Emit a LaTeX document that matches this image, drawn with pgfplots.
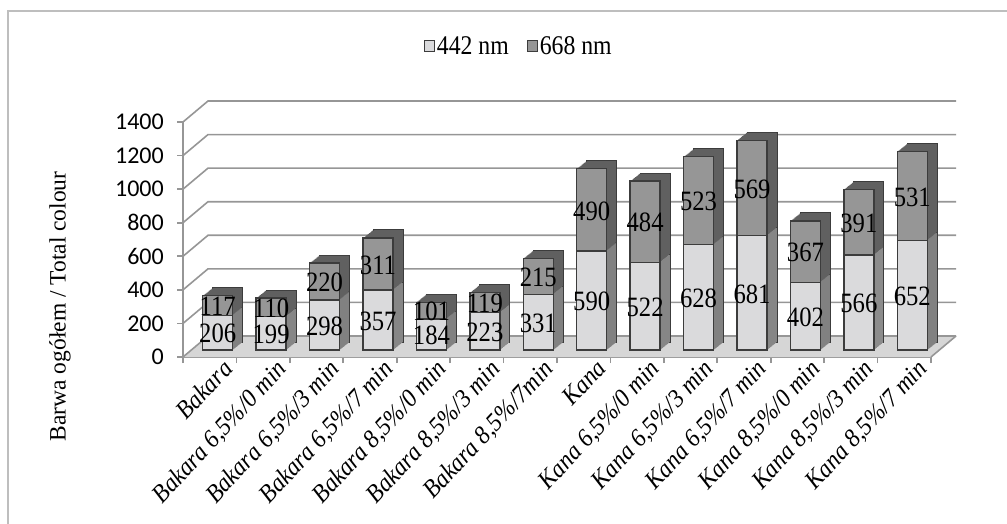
\documentclass[border=0pt]{standalone}
\usepackage{fontspec}
\setmainfont{Liberation Serif}
\newfontfamily\labfont[FakeStretch=0.88]{Liberation Serif}
\newfontfamily\xlabfont[FakeStretch=0.92]{Liberation Serif}
\newfontfamily\tickfont{Carlito}
\usepackage{pgfplots}
\pgfplotsset{compat=1.18}
\usepackage{pgfplotstable}

\definecolor{lightface}{RGB}{218,218,220}
\definecolor{darkface}{RGB}{150,150,150}
\definecolor{lightside}{RGB}{140,140,140}
\definecolor{darkside}{RGB}{96,96,96}
\definecolor{edgec}{RGB}{60,60,60}
\definecolor{gridc}{RGB}{150,150,150}
\definecolor{floorc}{RGB}{214,214,214}
\definecolor{framec}{RGB}{190,190,190}

\pgfplotstableread{
x a b
0 206 117
1 199 110
2 298 220
3 357 311
4 184 101
5 223 119
6 331 215
7 590 490
8 522 484
9 628 523
10 681 569
11 402 367
12 566 391
13 652 531
}\datatable

\pgfplotsset{bar3d/.style={ybar, bar width=30pt, bar shift=0pt, forget plot}}

\begin{document}
\begin{tikzpicture}
\useasboundingbox (0,0) rectangle (1007pt,-524pt);
\draw[framec, line width=1.5pt] (8pt,-540pt) -- (8pt,-11pt) -- (1020pt,-11pt);
\begin{axis}[
  at={(183pt,-357pt)}, anchor=south west,
  scale only axis, width=748pt, height=235pt,
  xmin=-0.5, xmax=13.5, ymin=0, ymax=1400,
  clip=false,
  axis x line*=bottom, axis y line*=left,
  axis line style={gridc, line width=1.6pt},
  ytick={0,200,...,1400},
  xtick={-0.5,0.5,...,13.5},
  xticklabels={},
  extra x ticks={0,...,13},
  extra x tick labels={{Bakara}, {Bakara 6,5\%/0 min}, {Bakara 6,5\%/3 min}, {Bakara 6,5\%/7 min}, {Bakara 8,5\%/0 min}, {Bakara 8,5\%/3 min}, {Bakara 8,5\%/7min}, {Kana}, {Kana 6,5\%/0 min}, {Kana 6,5\%/3 min}, {Kana 6,5\%/7 min}, {Kana 8,5\%/0 min}, {Kana 8,5\%/3 min}, {Kana 8,5\%/7 min}},
  extra x tick style={major tick length=0pt},
  tick align=outside,
  major tick length=6pt,
  tick style={gridc, line width=1.6pt},
  /pgf/number format/1000 sep={},
  /pgf/number format/assume math mode=true,
  yticklabel style={font=\tickfont\fontsize{24}{24}\selectfont, anchor=east, inner sep=0pt, xshift=-13pt},
  xticklabel style={font=\xlabfont\itshape\fontsize{25.5}{25.5}\selectfont, rotate=47, anchor=north east, inner sep=0pt, xshift=7pt, yshift=-9pt},
  ylabel={Barwa ogółem / Total colour},
  every axis y label/.style={at={(rel axis cs:0,0.215)}, xshift=-123pt, rotate=90, anchor=center, font=\fontsize{23.5}{23.5}\selectfont},
  legend style={at={(0.449,1.323)}, anchor=center, draw=none, fill=none, legend columns=2, font=\labfont\fontsize{27}{27}\selectfont, /tikz/every even column/.append style={column sep=16pt}},
  legend image code/.code={\draw[#1, line width=0.9pt] (0pt,-5pt) rectangle (10pt,6pt);},
]
\addlegendimage{fill=lightface, draw=edgec}
\addlegendentry{442 nm}
\addlegendimage{fill=darkface, draw=edgec}
\addlegendentry{668 nm}

% floor
\fill[floorc] (axis cs:-0.5,0) -- (axis cs:13.5,0) -- ([shift={(25pt,21pt)}]axis cs:13.5,0) -- ([shift={(25pt,21pt)}]axis cs:-0.5,0) -- cycle;
\draw[gridc, line width=1.6pt] (axis cs:13.5,0) -- ([shift={(25pt,21pt)}]axis cs:13.5,0);
% walls and grid
\pgfplotsinvokeforeach{0,200,...,1400}{
  \draw[gridc, line width=1.6pt] (axis cs:-0.5,#1) -- ([shift={(25pt,21pt)}]axis cs:-0.5,#1) -- ([shift={(25pt,21pt)}]axis cs:13.5,#1);
}

% 3D extrusion of the bars
\addplot[bar3d, fill=darkside, draw=edgec, line width=1pt, xshift=18pt, yshift=15pt] table[x=x, y expr=\thisrow{a}+\thisrow{b}] \datatable;
\addplot[bar3d, fill=lightside, draw=edgec, line width=1pt, xshift=18pt, yshift=15pt] table[x=x, y=a] \datatable;
\pgfplotsinvokeforeach{9,8,...,1}{
  \addplot[bar3d, fill=darkside, draw=none, xshift=8pt+#1pt, yshift=7pt+0.8*#1pt] table[x=x, y expr=\thisrow{a}+\thisrow{b}] \datatable;
  \addplot[bar3d, fill=lightside, draw=none, xshift=8pt+#1pt, yshift=7pt+0.8*#1pt] table[x=x, y=a] \datatable;
}
% front faces
\addplot[bar3d, fill=darkface, draw=edgec, line width=1.3pt, xshift=8pt, yshift=7pt] table[x=x, y expr=\thisrow{a}+\thisrow{b}] \datatable;
\addplot[bar3d, fill=lightface, draw=edgec, line width=1.3pt, xshift=8pt, yshift=7pt] table[x=x, y=a] \datatable;

% value labels
\addplot[forget plot, only marks, mark=none, point meta=explicit symbolic, nodes near coords, nodes near coords align={anchor=center},
  every node near coord/.append style={font=\labfont\fontsize{28}{28}\selectfont, text=black, anchor=center, xshift=8pt, yshift=6pt}]
  table[x=x, y expr=\thisrow{a}/2, meta=a] \datatable;
\addplot[forget plot, only marks, mark=none, point meta=explicit symbolic, nodes near coords, nodes near coords align={anchor=center},
  every node near coord/.append style={font=\labfont\fontsize{28}{28}\selectfont, text=black, anchor=center, xshift=8pt, yshift=6pt}]
  table[x=x, y expr=\thisrow{a}+\thisrow{b}/2, meta=b] \datatable;
\end{axis}
\end{tikzpicture}
\end{document}
